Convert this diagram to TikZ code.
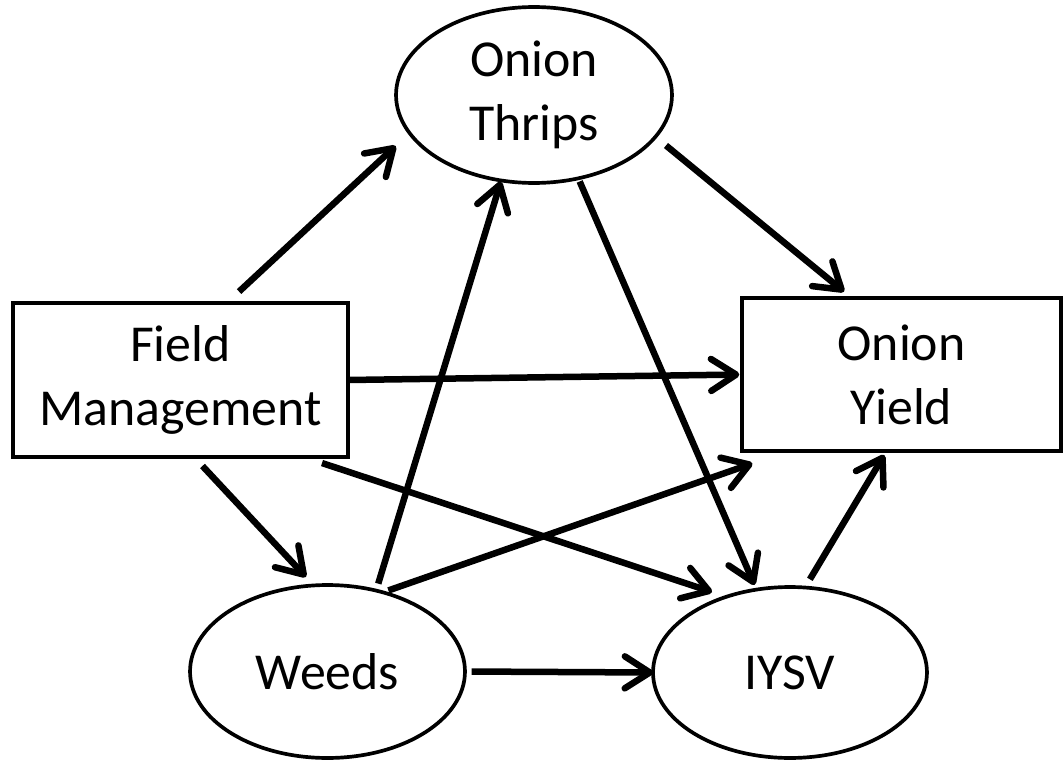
\documentclass[tikz,border=0pt]{standalone}
\usepackage{fontspec}
\setmainfont{Carlito}
\usetikzlibrary{shapes.geometric,arrows.meta}

\begin{document}
\begin{tikzpicture}[x=0.02cm,y=-0.02cm]
\tikzset{oval/.style = {shape=ellipse,draw,line width=2.1pt,inner sep=0pt,outer sep=0pt,align=center,font=\fontsize{29.5}{36.3}\selectfont}}
\tikzset{box/.style = {shape=rectangle,draw,line width=2.1pt,inner sep=0pt,outer sep=0pt,align=center,font=\fontsize{29.5}{36.3}\selectfont}}
\tikzset{edge/.style = {line width=3.7pt,-{Straight Barb[round,length=0.5cm,width=0.64cm]}}}
\useasboundingbox (0,0) rectangle (1063,761);

\node[oval,minimum width=5.52cm,minimum height=3.52cm] (thrips) at (534,95) {Onion\\Thrips};
\node[box,minimum width=6.7cm,minimum height=3.08cm] (fm) at (180.5,380) {Field\\Management};
\node[box,minimum width=6.38cm,minimum height=3.06cm] (yield) at (901.5,374.5) {Onion\\Yield};
\node[oval,minimum width=5.5cm,minimum height=3.46cm] (weeds) at (327.5,671.5) {Weeds};
\node[oval,minimum width=5.48cm,minimum height=3.42cm] (iysv) at (790,672.5) {IYSV};


\draw[edge,shorten <=0.336cm,shorten >=0.38cm] (fm.59.5) to (thrips.197.8);
\draw[edge,shorten <=0.04cm,shorten >=0.054cm] (fm.east) to (yield.west);
\draw[edge,shorten <=0.246cm,shorten >=0.232cm] (fm.-80.3) to (weeds.99);
\draw[edge,shorten <=0.386cm,shorten >=0.304cm] (fm.-32.9) to (iysv.130);
\draw[edge,shorten <=0.274cm,shorten >=0.2cm] (thrips.-19.7) to (yield.123);
\draw[edge,shorten <=0.068cm,shorten >=0.102cm] (thrips.-62.8) to (iysv.112.7);
\draw[edge,shorten <=0.146cm,shorten >=0.025cm] (weeds.59.9) to (thrips.249.1);
\draw[edge,shorten <=0.116cm,shorten >=0.756cm] (weeds.55.8) to (yield.214.6);
\draw[edge,shorten <=0.134cm] (weeds.east) to (iysv.west);
\draw[edge,shorten <=0.192cm,shorten >=0.094cm] (iysv.80.4) to (yield.259.6);
\end{tikzpicture}
\end{document}
